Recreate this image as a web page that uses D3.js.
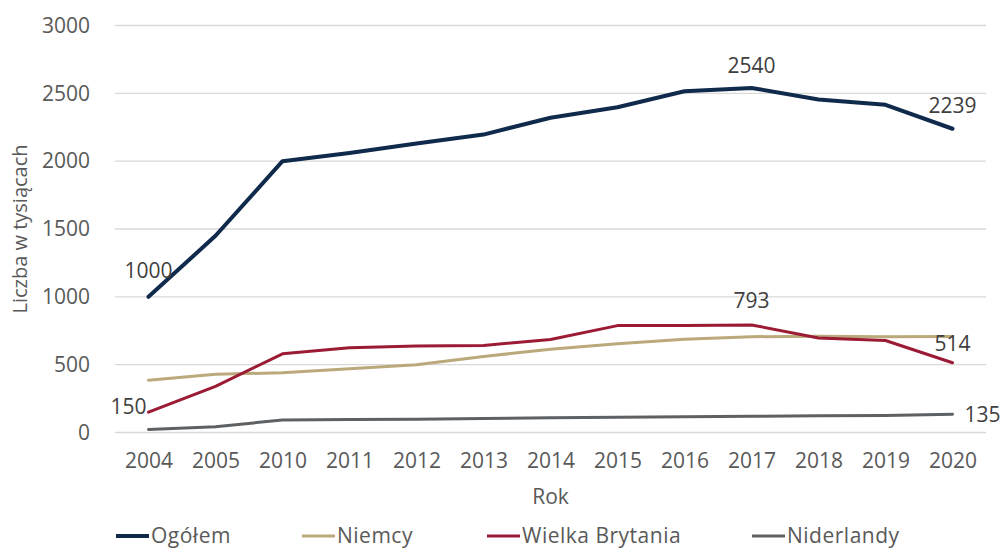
<!DOCTYPE html>
<html>
<head>
<meta charset="utf-8">
<script src="https://cdn.jsdelivr.net/npm/d3@7"></script>
<style>
  body { margin: 0; background: #fff; }
  text { font-family: "Open Sans", "DejaVu Sans", sans-serif; }
</style>
</head>
<body>
<div id="chart"></div>
<script>
const years = ["2004", "2005", "2010", "2011", "2012", "2013", "2014", "2015", "2016", "2017", "2018", "2019", "2020"];
const ogolem = [1000, 1450, 2000, 2060, 2130, 2196, 2320, 2397, 2515, 2540, 2455, 2415, 2239];
const niemcy = [385, 430, 440, 470, 500, 560, 614, 655, 687, 706, 710, 706, 708];
const wielkaBrytania = [150, 340, 580, 625, 637, 642, 685, 788, 788, 793, 697, 678, 514];
const niderlandy = [23, 43, 92, 95, 97, 103, 109, 112, 116, 120, 123, 125, 135];
const yTicks = [0, 500, 1000, 1500, 2000, 2500, 3000];

const seriesNames = ["Ogółem", "Niemcy", "Wielka Brytania", "Niderlandy"];
const seriesValues = [ogolem, niemcy, wielkaBrytania, niderlandy];
const colors = ["#102a4c", "#bba97c", "#9c1b34", "#5e6164"];
const widths = [4, 3, 3, 3];

const W = 1003, H = 550;
const margin = {top: 25.5, right: 17, bottom: 117.5, left: 115},
      width = W - margin.left - margin.right,
      height = H - margin.top - margin.bottom;

const svg = d3.select("#chart").append("svg")
  .attr("width", W)
  .attr("height", H);

const g = svg.append("g")
  .attr("transform", `translate(${margin.left},${margin.top})`);

const x = d3.scalePoint().domain(years).range([0, width]).padding(0.5);
const y = d3.scaleLinear().domain([0, 3000]).range([height, 0]);

// gridlines
g.selectAll(".grid")
  .data(yTicks)
  .enter()
  .append("line")
  .attr("x1", 0)
  .attr("x2", width)
  .attr("y1", d => y(d))
  .attr("y2", d => y(d))
  .attr("stroke", "#d9d9d9")
  .attr("stroke-width", 1.3);

// y axis labels
const yAxis = g.append("g")
  .call(d3.axisLeft(y).tickValues(yTicks).tickFormat(d3.format("d")).tickSize(0).tickPadding(25));
yAxis.select(".domain").remove();
yAxis.selectAll("text")
  .attr("fill", "#595959")
  .style("font-size", "21px")
  .style("font-family", "'Open Sans', sans-serif");

// x axis labels
const xAxis = g.append("g")
  .attr("transform", `translate(0,${height})`)
  .call(d3.axisBottom(x).tickSize(0).tickPadding(21));
xAxis.select(".domain").remove();
xAxis.selectAll("text")
  .attr("fill", "#595959")
  .style("font-size", "21px")
  .style("font-family", "'Open Sans', sans-serif");

// lines
const line = d3.line()
  .x((d, i) => x(years[i]))
  .y(d => y(d));

[3, 1, 2, 0].forEach(k => {
  g.append("path")
    .datum(seriesValues[k])
    .attr("fill", "none")
    .attr("stroke", colors[k])
    .attr("stroke-width", widths[k])
    .attr("stroke-linejoin", "round")
    .attr("stroke-linecap", "round")
    .attr("d", line);
});

// data labels
const labels = [
  {s: 0, i: 0, dx: 0, dy: -26, anchor: "middle"},
  {s: 0, i: 9, dx: 0, dy: -22, anchor: "middle"},
  {s: 0, i: 12, dx: 0, dy: -23, anchor: "middle"},
  {s: 2, i: 9, dx: 0, dy: -24, anchor: "middle"},
  {s: 2, i: 12, dx: 0, dy: -19, anchor: "middle"},
  {s: 2, i: 0, dx: -20, dy: -6, anchor: "middle"},
  {s: 3, i: 12, dx: 12, dy: 0, anchor: "start"}
];

g.selectAll(".lbl")
  .data(labels)
  .enter()
  .append("text")
  .attr("x", d => x(years[d.i]) + d.dx)
  .attr("y", d => y(seriesValues[d.s][d.i]) + d.dy)
  .attr("dy", "0.35em")
  .attr("text-anchor", d => d.anchor)
  .attr("fill", "#404040")
  .style("font-size", "21px")
  .text(d => seriesValues[d.s][d.i]);

// axis titles
svg.append("text")
  .attr("text-anchor", "middle")
  .attr("transform", `translate(27,${margin.top + height / 2})rotate(-90)`)
  .attr("fill", "#595959")
  .style("font-size", "20px")
  .text("Liczba w tysiącach");

svg.append("text")
  .attr("x", margin.left + width / 2)
  .attr("y", 504)
  .attr("text-anchor", "middle")
  .attr("fill", "#595959")
  .style("font-size", "21px")
  .text("Rok");

// legend
const legendX = [116, 302, 487, 752];
const legend = svg.selectAll(".legend")
  .data(seriesNames)
  .enter()
  .append("g")
  .attr("transform", (d, i) => `translate(${legendX[i]},536)`);

legend.append("line")
  .attr("x1", 0)
  .attr("x2", 33)
  .attr("stroke", (d, i) => colors[i])
  .attr("stroke-width", (d, i) => widths[i]);

legend.append("text")
  .attr("x", 35)
  .attr("dy", "0.35em")
  .attr("fill", "#595959")
  .style("font-size", "21px")
  .style("letter-spacing", "0.5px")
  .text(d => d);
</script>
</body>
</html>
